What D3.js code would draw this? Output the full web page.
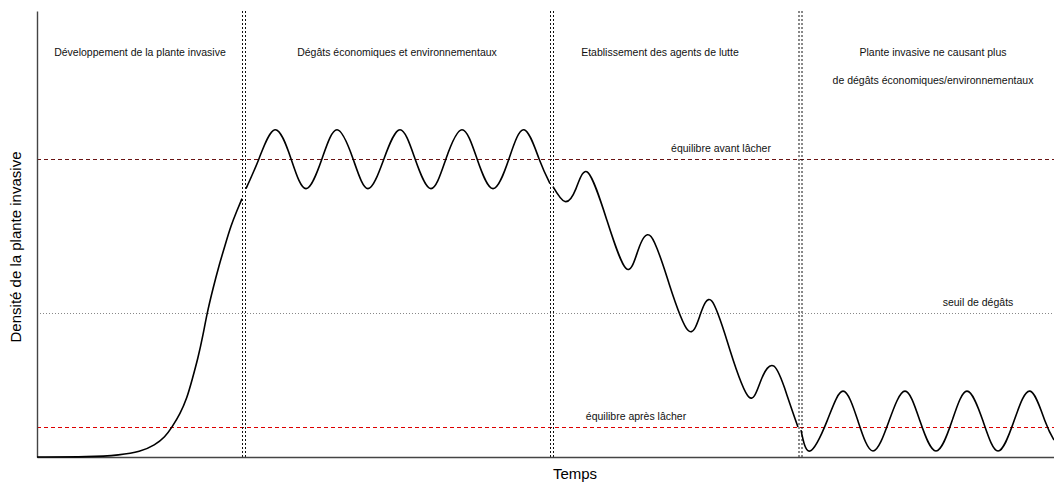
<!DOCTYPE html>
<html><head><meta charset="utf-8">
<script src="https://cdn.jsdelivr.net/npm/d3@7"></script>
<style>
html,body{margin:0;padding:0;background:#fff;}
svg{display:block;font-family:"Liberation Sans",Arial,sans-serif;}
</style></head>
<body>
<svg id="chart" width="1054" height="484"></svg>
<script>
// ---- data (time units, density units) ----
const phase1T = [0,53,83,103,118,128,135,143,150,155,161,166,170,176,182,188,194,200,205];
const phase1D = [0,0,2,5,12,20,30,43,59,77,99,122,144,169,192,212,232,247,259];

const phase2T = [209,222,238,254,269,285,300,316,331,347,363,378,394,409,425,440,456,472,487,502,513];
const phase2D = [269,299,328,299,269,299,328,299,269,299,328,299,269,299,328,299,269,299,328,299,274];

const phase3T = [516,528,539,551,570,589,601,614,632,651,663,675,693,712,724,737,750,761];
const phase3D = [271,256,269,285,237,189,207,221,174,127,142,156,107,60,77,91,62,30];

const phase4T = [764,773,790,806,821,836,852,868,883,899,915,930,946,961,977,993,1008,1017];
const phase4D = [27,6,36,66,36,6,36,66,36,6,36,66,36,6,36,66,36,17];

const boundaries = [207, 515, 763.5];
const levelNames = ["équilibre avant lâcher", "seuil de dégâts", "équilibre après lâcher"];
const levelValues = [299, 144, 30];
const phaseLabels = [
  ["Développement de la plante invasive"],
  ["Dégâts économiques et environnementaux"],
  ["Etablissement des agents de lutte"],
  ["Plante invasive ne causant plus", "de dégâts économiques/environnementaux"]
];
const phaseLabelCenters = [103, 360, 623, 896];
const levelLabelPos = [684, 941, 599];
const xTitle = "Temps";
const yTitle = "Densité de la plante invasive";

// ---- chart ----
const svg = d3.select("#chart");
const x = d3.scaleLinear().domain([0, 1017]).range([37, 1054]);
const y = d3.scaleLinear().domain([0, 447]).range([457, 11]);

// horizontal reference lines
const levelStyles = [
  {stroke:"#6a1414", dash:"4,3", w:1},
  {stroke:"#888", dash:"1,2", w:1},
  {stroke:"#dd0000", dash:"4,3", w:1}
];
levelValues.forEach((v,i)=>{
  svg.append("line")
    .attr("x1", x(0)).attr("x2", x(1017))
    .attr("y1", Math.round(y(v))+0.5).attr("y2", Math.round(y(v))+0.5)
    .attr("stroke", levelStyles[i].stroke)
    .attr("stroke-width", levelStyles[i].w)
    .attr("stroke-dasharray", levelStyles[i].dash);
  svg.append("text")
    .attr("x", x(levelLabelPos[i])).attr("y", y(v) - 7)
    .attr("text-anchor","middle").attr("font-size", 10.5).attr("fill","#111")
    .text(levelNames[i]);
});

// double dotted vertical boundaries
boundaries.forEach(b=>{
  [-1.5, 1.5].forEach(off=>{
    svg.append("line")
      .attr("x1", x(b)+off).attr("x2", x(b)+off)
      .attr("y1", y(447)).attr("y2", y(0))
      .attr("stroke","#111").attr("stroke-width",1)
      .attr("stroke-dasharray","2,2");
  });
});

// axes
const xAxis = svg.append("g").attr("transform",`translate(0,${y(0)})`)
  .call(d3.axisBottom(x).tickValues([]).tickSizeOuter(0));
xAxis.select(".domain").attr("stroke","#444").attr("stroke-width",1.4);
const yAxis = svg.append("g").attr("transform",`translate(${x(0)},0)`)
  .call(d3.axisLeft(y).tickValues([]).tickSizeOuter(0));
yAxis.select(".domain").attr("stroke","#444").attr("stroke-width",1.4);

// curve segments
const phases = [
  {t:phase1T, d:phase1D, curve:d3.curveBasis},
  {t:phase2T, d:phase2D, curve:d3.curveNatural},
  {t:phase3T, d:phase3D, curve:d3.curveNatural},
  {t:phase4T, d:phase4D, curve:d3.curveNatural}
];
phases.forEach(p=>{
  const pts = p.t.map((t,i)=>[t, p.d[i]]);
  const line = d3.line().x(d=>x(d[0])).y(d=>y(d[1])).curve(p.curve);
  svg.append("path").attr("d", line(pts))
    .attr("fill","none").attr("stroke","#000").attr("stroke-width",1.6);
});

// phase labels
phaseLabels.forEach((lines,i)=>{
  lines.forEach((s,j)=>{
    svg.append("text")
      .attr("x", x(phaseLabelCenters[i])).attr("y", 56 + j*28)
      .attr("text-anchor","middle").attr("font-size",10.5).attr("fill","#111")
      .text(s);
  });
});

// axis titles
svg.append("text").attr("x", 575).attr("y", 479)
  .attr("text-anchor","middle").attr("font-size",15).attr("fill","#000").text(xTitle);
svg.append("text").attr("transform","translate(21,247) rotate(-90)")
  .attr("text-anchor","middle").attr("font-size",15).attr("fill","#000").text(yTitle);
</script>
</body></html>
